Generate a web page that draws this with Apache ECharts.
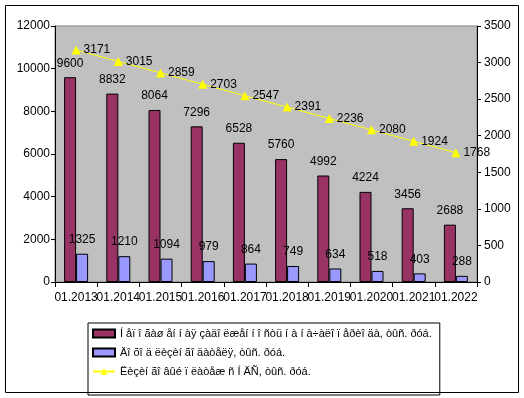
<!DOCTYPE html>
<html>
<head>
<meta charset="utf-8">
<script src="https://cdn.jsdelivr.net/npm/echarts@6/dist/echarts.min.js"></script>
<style>
  html, body { margin: 0; padding: 0; background: #fff; }
  #chart { width: 524px; height: 398px; }
</style>
</head>
<body>
<div id="chart"></div>
<script>
const periods = ["01.2013", "01.2014", "01.2015", "01.2016", "01.2017", "01.2018", "01.2019", "01.2020", "01.2021", "01.2022"];
const debtValues = [9600, 8832, 8064, 7296, 6528, 5760, 4992, 4224, 3456, 2688];
const incomeValues = [1325, 1210, 1094, 979, 864, 749, 634, 518, 403, 288];
const paymentValues = [3171, 3015, 2859, 2703, 2547, 2391, 2236, 2080, 1924, 1768];
const leftTicks = [0, 12000, 2000];
const rightTicks = [0, 3500, 500];

const seriesNames = [
  "Í åï î ãàø åí í àÿ çàäî ëæåí í î ñòü í à í à÷àëî ï åðèî äà, òûñ. ðóá.",
  "Äî õî ä ëèçèí ãî äàòåëÿ, òûñ. ðóá.",
  "Ëèçèí ãî âûé ï ëàòåæ ñ Í ÄÑ, òûñ. ðóá."
];

const font = "'Liberation Sans', Arial, sans-serif";
const chart = echarts.init(document.getElementById("chart"));

const labelStyle = { color: "#000", fontFamily: font, fontSize: 12 };
const plain = v => String(v);

chart.setOption({
  animation: false,
  textStyle: { fontFamily: font },
  graphic: [{
    type: "rect",
    shape: { x: 5.5, y: 5.5, width: 513, height: 387 },
    style: { fill: "none", stroke: "#000", lineWidth: 1 },
    silent: true
  }],
  grid: {
    left: 55, right: 47, top: 26, bottom: 116,
    show: true, backgroundColor: "#C0C0C0", borderColor: "#808080", borderWidth: 1
  },
  legend: {
    orient: "vertical",
    left: 88, top: 323,
    padding: [5, 8, 18, 4],
    itemGap: 8,
    itemWidth: 22, itemHeight: 8,
    borderColor: "#000", borderWidth: 1,
    textStyle: { color: "#000", fontFamily: font, fontSize: 11 },
    data: [
      { name: seriesNames[0], icon: "rect" },
      { name: seriesNames[1], icon: "rect" },
      { name: seriesNames[2] }
    ]
  },
  xAxis: {
    type: "category",
    data: periods,
    axisLine: { lineStyle: { color: "#000" } },
    axisTick: { show: true, length: 5, alignWithLabel: false, lineStyle: { color: "#000" } },
    axisLabel: { interval: 0, color: "#000", fontFamily: font, fontSize: 12, margin: 10 }
  },
  yAxis: [{
    type: "value",
    min: leftTicks[0], max: leftTicks[1], interval: leftTicks[2],
    axisLine: { show: true, lineStyle: { color: "#000" } },
    axisTick: { show: true, length: 4, lineStyle: { color: "#000" } },
    splitLine: { show: false },
    axisLabel: { color: "#000", fontFamily: font, fontSize: 12, margin: 5, formatter: plain }
  }, {
    type: "value",
    position: "right",
    min: rightTicks[0], max: rightTicks[1], interval: rightTicks[2],
    axisLine: { show: true, lineStyle: { color: "#000" } },
    axisTick: { show: true, length: 4, lineStyle: { color: "#000" } },
    splitLine: { show: false },
    axisLabel: { color: "#000", fontFamily: font, fontSize: 12, margin: 7, formatter: plain }
  }],
  series: [{
    name: seriesNames[0],
    type: "bar",
    data: debtValues,
    barWidth: 12,
    barGap: "0%",
    itemStyle: { color: "#993366", borderColor: "#000", borderWidth: 1 },
    label: Object.assign({ show: true, position: "top", distance: 8 }, labelStyle)
  }, {
    name: seriesNames[1],
    type: "bar",
    data: incomeValues,
    barWidth: 12,
    barGap: "0%",
    itemStyle: { color: "#9999FF", borderColor: "#000", borderWidth: 1 },
    label: Object.assign({ show: true, position: "top", distance: 8 }, labelStyle)
  }, {
    name: seriesNames[2],
    type: "line",
    yAxisIndex: 1,
    data: paymentValues,
    symbol: "triangle",
    symbolSize: 9,
    itemStyle: { color: "#FFFF00" },
    lineStyle: { color: "#FFFF00", width: 1 },
    label: Object.assign({ show: true, position: "right", distance: 3 }, labelStyle)
  }]
});
</script>
</body>
</html>
